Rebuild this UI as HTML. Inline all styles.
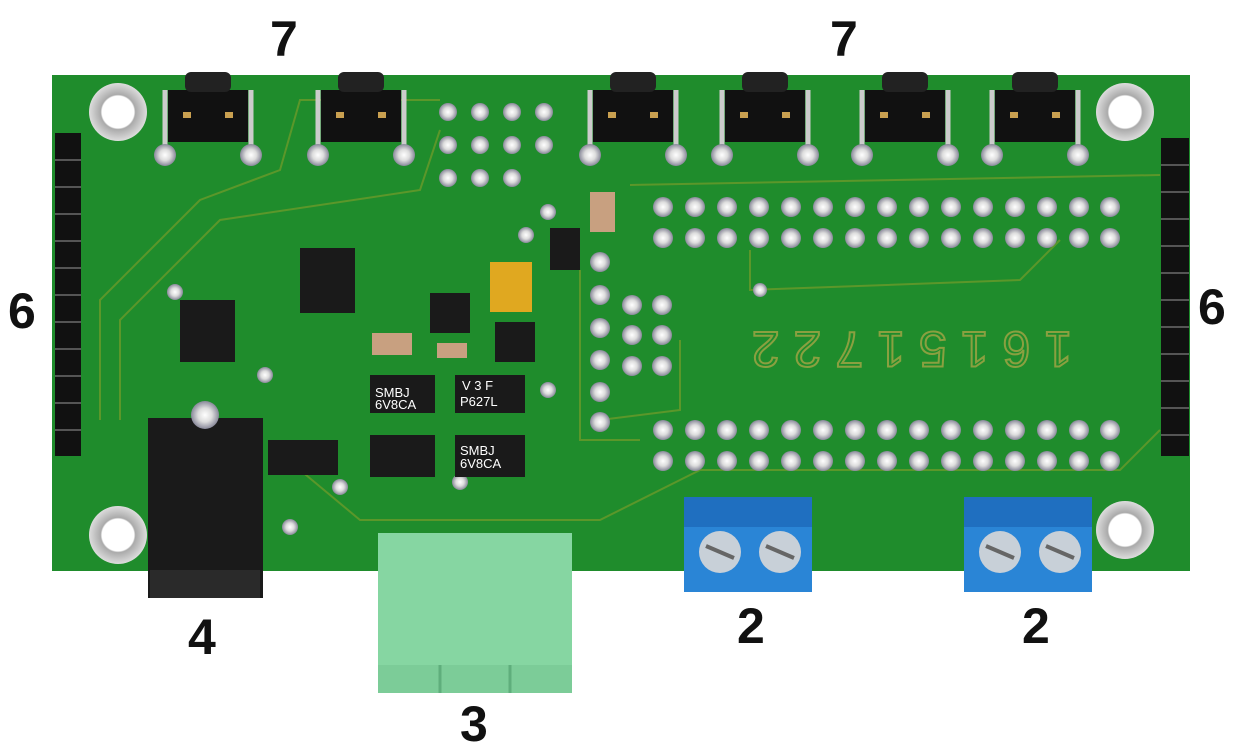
<!DOCTYPE html>
<html><head><meta charset="utf-8"><style>
body{margin:0;background:#fff;width:1240px;height:750px;overflow:hidden;font-family:"Liberation Sans",sans-serif}
.l{position:absolute;font-weight:bold;font-size:50px;color:#111}
</style></head><body>
<svg width="1240" height="750" style="position:absolute;left:0;top:0">
<defs>
<radialGradient id="pad"><stop offset="0" stop-color="#fff"/><stop offset=".5" stop-color="#ddd"/><stop offset="1" stop-color="#889"/></radialGradient>
<radialGradient id="mh"><stop offset="0" stop-color="#fff"/><stop offset=".55" stop-color="#fff"/><stop offset=".6" stop-color="#aaa"/><stop offset="1" stop-color="#ddd"/></radialGradient>
</defs>
<rect x="52" y="75" width="1138" height="496" fill="#1f8c2c"/>
<g stroke="#6a9a2a" stroke-width="2" fill="none" opacity=".8">
<path d="M100 420 L100 300 L200 200 L280 170 L300 100 L440 100"/>
<path d="M120 420 L120 320 L220 220 L420 190 L440 130"/>
<path d="M630 185 L1160 175"/><path d="M750 250 L750 290 L1020 280 L1060 240"/>
<path d="M300 470 L360 520 L600 520 L700 470 L1120 470 L1160 430"/>
<path d="M580 270 L580 440 L640 440"/><path d="M680 340 L680 410 L600 420"/>
</g>
<g fill="url(#mh)"><circle cx="118" cy="112" r="29"/><circle cx="1125" cy="112" r="29"/><circle cx="118" cy="535" r="29"/><circle cx="1125" cy="530" r="29"/></g>
<g fill="url(#pad)">
<g id="r1">
<circle cx="663" cy="207" r="10"/><circle cx="695" cy="207" r="10"/><circle cx="727" cy="207" r="10"/><circle cx="759" cy="207" r="10"/><circle cx="791" cy="207" r="10"/><circle cx="823" cy="207" r="10"/><circle cx="855" cy="207" r="10"/><circle cx="887" cy="207" r="10"/><circle cx="919" cy="207" r="10"/><circle cx="951" cy="207" r="10"/><circle cx="983" cy="207" r="10"/><circle cx="1015" cy="207" r="10"/><circle cx="1047" cy="207" r="10"/><circle cx="1079" cy="207" r="10"/><circle cx="1110" cy="207" r="10"/>
</g>
<use href="#r1" y="31"/><use href="#r1" y="223"/><use href="#r1" y="254"/>
<circle cx="600" cy="262" r="10"/><circle cx="600" cy="295" r="10"/><circle cx="600" cy="328" r="10"/><circle cx="600" cy="360" r="10"/><circle cx="600" cy="392" r="10"/><circle cx="600" cy="422" r="10"/>
<circle cx="632" cy="305" r="10"/><circle cx="632" cy="335" r="10"/><circle cx="632" cy="366" r="10"/><circle cx="662" cy="305" r="10"/><circle cx="662" cy="335" r="10"/><circle cx="662" cy="366" r="10"/>
<circle cx="448" cy="112" r="9"/><circle cx="480" cy="112" r="9"/><circle cx="512" cy="112" r="9"/><circle cx="544" cy="112" r="9"/>
<circle cx="448" cy="145" r="9"/><circle cx="480" cy="145" r="9"/><circle cx="512" cy="145" r="9"/><circle cx="544" cy="145" r="9"/>
<circle cx="448" cy="178" r="9"/><circle cx="480" cy="178" r="9"/><circle cx="512" cy="178" r="9"/>
<circle cx="526" cy="235" r="8"/><circle cx="548" cy="212" r="8"/><circle cx="175" cy="292" r="8"/><circle cx="265" cy="375" r="8"/><circle cx="340" cy="487" r="8"/><circle cx="290" cy="527" r="8"/><circle cx="460" cy="482" r="8"/><circle cx="548" cy="390" r="8"/><circle cx="760" cy="290" r="7"/>
</g>
<text x="905" y="345" transform="rotate(180 905 345)" text-anchor="middle" font-size="50" letter-spacing="14" fill="none" stroke="#8aa040" stroke-width="2" font-family="Liberation Sans" dominant-baseline="middle">16151722</text>
<g id="b">
<rect x="168" y="90" width="80" height="52" fill="#111"/><rect x="185" y="72" width="46" height="20" rx="6" fill="#222"/>
<path d="M165 90 L165 150 M251 90 L251 150" stroke="#ccc" stroke-width="5"/>
<circle cx="165" cy="155" r="11" fill="url(#pad)"/><circle cx="251" cy="155" r="11" fill="url(#pad)"/>
<rect x="183" y="112" width="8" height="6" fill="#c9a050"/><rect x="225" y="112" width="8" height="6" fill="#c9a050"/>
</g>
<use href="#b" x="153"/><use href="#b" x="425"/><use href="#b" x="557"/><use href="#b" x="697"/><use href="#b" x="827"/>
<g fill="#111"><rect x="55" y="133" width="26" height="323"/><rect x="1161" y="138" width="28" height="318"/></g>
<g stroke="#555" stroke-width="2">
<path d="M55 160H81M55 187H81M55 214H81M55 241H81M55 268H81M55 295H81M55 322H81M55 349H81M55 376H81M55 403H81M55 430H81"/>
<path d="M1161 165H1189M1161 192H1189M1161 219H1189M1161 246H1189M1161 273H1189M1161 300H1189M1161 327H1189M1161 354H1189M1161 381H1189M1161 408H1189M1161 435H1189"/>
</g>
<g fill="#1a1a1a">
<rect x="300" y="248" width="55" height="65"/><rect x="180" y="300" width="55" height="62"/>
<rect x="370" y="375" width="65" height="38"/><rect x="455" y="375" width="70" height="38"/>
<rect x="370" y="435" width="65" height="42"/><rect x="455" y="435" width="70" height="42"/>
<rect x="268" y="440" width="70" height="35"/><rect x="495" y="322" width="40" height="40"/>
<rect x="550" y="228" width="30" height="42"/><rect x="430" y="293" width="40" height="40"/>
</g>
<rect x="490" y="262" width="42" height="50" fill="#e0a820"/>
<rect x="590" y="192" width="25" height="40" fill="#c8a080"/>
<rect x="372" y="333" width="40" height="22" fill="#c8a080"/><rect x="437" y="343" width="30" height="15" fill="#c8a080"/>
<g fill="#fff" font-size="13" font-family="Liberation Sans"><text x="375" y="397">SMBJ</text><text x="375" y="409">6V8CA</text><text x="462" y="390">V 3 F</text><text x="460" y="406">P627L</text><text x="460" y="455">SMBJ</text><text x="460" y="468">6V8CA</text></g>
<rect x="148" y="418" width="115" height="180" fill="#1a1a1a"/><rect x="150" y="570" width="110" height="28" fill="#2a2a2a"/>
<circle cx="205" cy="415" r="14" fill="url(#pad)"/>
<rect x="378" y="533" width="194" height="160" fill="#86d6a2"/><rect x="378" y="665" width="194" height="28" fill="#7ccc98"/>
<path d="M440 665V693M510 665V693" stroke="#5fae7c" stroke-width="3"/>
<g id="t"><rect x="684" y="497" width="128" height="95" fill="#2a85d6"/><rect x="684" y="497" width="128" height="30" fill="#1f6fc0"/>
<circle cx="720" cy="552" r="21" fill="#c8d0d8"/><circle cx="780" cy="552" r="21" fill="#c8d0d8"/>
<path d="M706 546L734 558M766 546L794 558" stroke="#666" stroke-width="4"/></g>
<use href="#t" x="280"/>
</svg>
<div class="l" style="left:270px;top:10px">7</div>
<div class="l" style="left:830px;top:10px">7</div>
<div class="l" style="left:8px;top:282px">6</div>
<div class="l" style="left:1198px;top:278px">6</div>
<div class="l" style="left:188px;top:608px">4</div>
<div class="l" style="left:460px;top:695px">3</div>
<div class="l" style="left:737px;top:597px">2</div>
<div class="l" style="left:1022px;top:597px">2</div>
</body></html>
